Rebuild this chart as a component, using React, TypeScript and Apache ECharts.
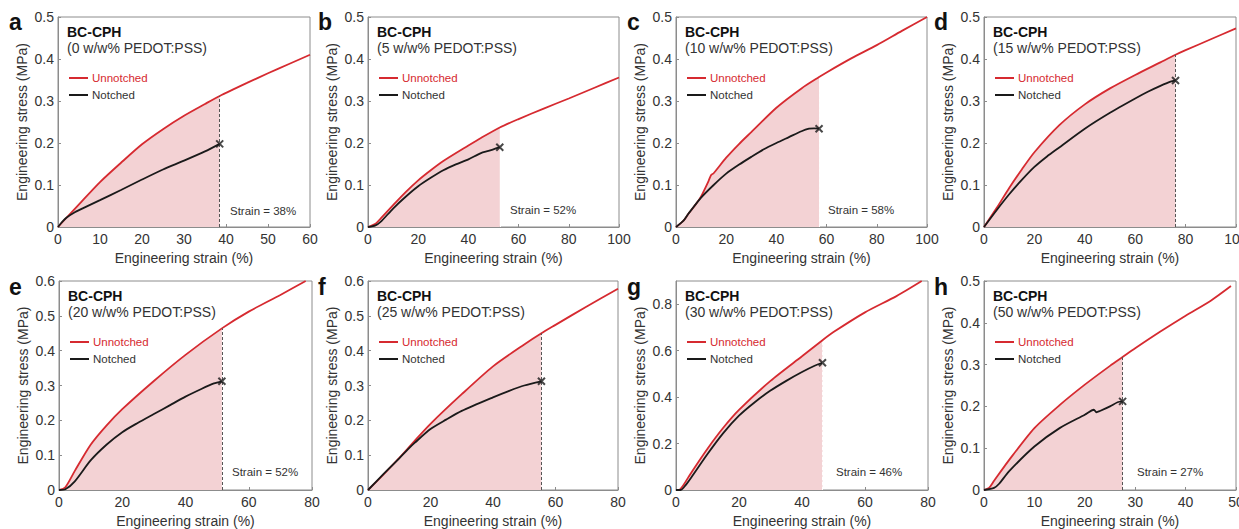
import React, { useEffect, useRef } from "react";
import * as echarts from "echarts";

// ---------- data ----------
const aUnnotched = [[0,0],[2,0.022],[5,0.054],[10,0.107],[15,0.153],[20,0.197],[25,0.233],[30,0.265],[35,0.293],[38.5,0.312],[45,0.343],[50,0.366],[55,0.388],[60,0.41]];
const aNotched = [[0,0],[1,0.012],[2,0.022],[4,0.035],[6,0.045],[10,0.064],[15,0.088],[20,0.113],[25,0.137],[30,0.158],[35,0.18],[38.5,0.198]];
const bUnnotched = [[0,0],[3,0.008],[5,0.02],[10,0.052],[15,0.083],[20,0.111],[25,0.135],[30,0.157],[40,0.194],[45,0.212],[52.5,0.237],[60,0.257],[70,0.282],[80,0.306],[90,0.331],[100,0.356]];
const bNotched = [[0,0],[3,0.004],[5,0.012],[10,0.044],[15,0.072],[20,0.097],[25,0.117],[30,0.135],[35,0.149],[40,0.161],[45,0.176],[48,0.181],[52.5,0.19]];
const cUnnotched = [[0,0],[3,0.015],[5,0.032],[8,0.055],[10,0.073],[13,0.11],[14,0.124],[15,0.128],[20,0.165],[25,0.197],[30,0.226],[40,0.284],[50,0.33],[57,0.357],[60,0.368],[70,0.402],[80,0.433],[90,0.467],[100,0.5]];
const cNotched = [[0,0],[3,0.015],[5,0.032],[10,0.07],[15,0.1],[20,0.127],[25,0.148],[30,0.167],[35,0.185],[40,0.2],[45,0.214],[50,0.228],[53,0.234],[55,0.235],[57,0.234]];
const dUnnotched = [[0,0],[5,0.045],[10,0.093],[15,0.137],[20,0.178],[30,0.243],[40,0.292],[50,0.33],[60,0.362],[70,0.392],[76,0.41],[80,0.421],[90,0.447],[100,0.473]];
const dNotched = [[0,0],[5,0.04],[10,0.078],[15,0.112],[20,0.143],[25,0.168],[30,0.19],[40,0.234],[50,0.272],[60,0.306],[65,0.322],[70,0.336],[74,0.346],[76,0.349]];
const eUnnotched = [[0,0],[2,0.008],[5,0.055],[10,0.13],[15,0.185],[20,0.232],[30,0.313],[40,0.388],[51.5,0.464],[60,0.512],[70,0.56],[78,0.6]];
const eNotched = [[0,0],[2,0.002],[5,0.025],[10,0.085],[15,0.13],[20,0.166],[25,0.193],[30,0.218],[35,0.243],[40,0.268],[45,0.29],[49,0.306],[51.5,0.312]];
const fUnnotched = [[0,0],[5,0.045],[10,0.092],[15,0.142],[20,0.19],[30,0.275],[40,0.355],[50,0.418],[55.5,0.45],[60,0.474],[70,0.527],[80,0.578]];
const fNotched = [[0,0],[5,0.046],[10,0.091],[13,0.119],[15,0.136],[20,0.175],[25,0.202],[30,0.227],[40,0.266],[45,0.284],[50,0.3],[55.5,0.312]];
const gUnnotched = [[0,0],[1,0],[2,0.014],[5,0.078],[10,0.178],[15,0.268],[20,0.345],[30,0.47],[40,0.576],[46.5,0.645],[50,0.68],[60,0.765],[70,0.835],[78,0.9]];
const gNotched = [[0,0],[1.5,0],[3,0.02],[5,0.057],[10,0.155],[15,0.245],[20,0.32],[25,0.378],[30,0.428],[35,0.47],[40,0.508],[44,0.535],[46.5,0.548]];
const hUnnotched = [[0,0],[1,0.005],[2,0.022],[5,0.072],[10,0.148],[15,0.203],[20,0.252],[25,0.297],[27.5,0.318],[30,0.339],[35,0.379],[40,0.417],[45,0.453],[49,0.488]];
const hNotched = [[0,0],[2,0.005],[3,0.015],[5,0.045],[10,0.104],[15,0.148],[20,0.18],[21.8,0.192],[22.3,0.186],[23,0.189],[25,0.2],[26.5,0.21],[27.5,0.212]];

const unnotchedSets = [aUnnotched, bUnnotched, cUnnotched, dUnnotched, eUnnotched, fUnnotched, gUnnotched, hUnnotched];
const notchedSets = [aNotched, bNotched, cNotched, dNotched, eNotched, fNotched, gNotched, hNotched];
const panelLetters = ["a", "b", "c", "d", "e", "f", "g", "h"];
const loadings = ["0", "5", "10", "15", "20", "25", "30", "50"];
const strains = [38.5, 52.5, 57, 76, 51.5, 55.5, 46.5, 27.5];
const strainLabels = ["38", "52", "58", "75", "52", "55", "46", "27"];
const xMaxes = [60, 100, 100, 100, 80, 80, 80, 50];
const xIntervals = [10, 20, 20, 20, 20, 20, 20, 10];
const yMaxes = [0.5, 0.5, 0.5, 0.5, 0.6, 0.6, 0.9, 0.5];
const yIntervals = [0.1, 0.1, 0.1, 0.1, 0.1, 0.1, 0.2, 0.1];
const sampleName = "BC-CPH";
const legendNames = ["Unnotched", "Notched"];
const xName = "Engineering strain (%)";
const yName = "Engineering stress (MPa)";

// ---------- layout / style ----------
const lefts = [58, 368, 676, 984, 59, 368, 676, 984];
const rights = [310, 619, 927, 1236, 312, 618, 928, 1236];
const tops = [17, 17, 17, 17, 281, 281, 281, 281];
const bottoms = [227, 227, 227, 227, 492, 492, 492, 492];
const strainLabelPos = [[230, 211], [510, 210], [828, 210], [1101, 211], [232, 472], [467, 472], [836, 472], [1137, 472]];
const dashWhite = [false, true, true, false, false, false, true, false];
const letterPos = [[9, 22], [318, 22], [627, 22], [934, 22], [9, 287], [318, 287], [627, 287], [934, 287]];

const FONT = '"Liberation Sans", Arial, Helvetica, sans-serif';
const RED = "#d62a30";
const BLACK = "#1a1a1a";
const FILL = "#f3d2d4";
const AXIS = "#8c8c8c";
const TEXT = "#333333";

export default function App() {
  const ref = useRef<HTMLDivElement>(null);
  useEffect(() => {
    if (!ref.current) return;
    const chart = echarts.init(ref.current, null, { renderer: "svg" });
    const grid: any[] = [];
    const xAxis: any[] = [];
    const yAxis: any[] = [];
    const series: any[] = [];
    const graphic: any[] = [];

    for (let i = 0; i < 8; i++) {
      grid.push({
        left: lefts[i], top: tops[i],
        width: rights[i] - lefts[i], height: bottoms[i] - tops[i],
        show: true, borderColor: AXIS, borderWidth: 1,
      });
      const axisCommon = {
        gridIndex: i,
        axisLine: { show: true, onZero: false, lineStyle: { color: AXIS, width: 1 } },
        axisTick: { show: true, inside: true, length: 3, lineStyle: { color: AXIS } },
        splitLine: { show: false },
        nameLocation: "middle",
        nameTextStyle: { fontFamily: FONT, fontSize: 14, color: TEXT },
      };
      xAxis.push({
        ...axisCommon, type: "value", min: 0, max: xMaxes[i], interval: xIntervals[i],
        name: xName, nameGap: 24,
        axisLabel: { fontFamily: FONT, fontSize: 14, color: TEXT, margin: 5, hideOverlap: false },
      });
      yAxis.push({
        ...axisCommon, type: "value", min: 0, max: yMaxes[i], interval: yIntervals[i],
        name: yName, nameGap: 29,
        axisLabel: { fontFamily: FONT, fontSize: 14, color: TEXT, margin: 4, showMaxLabel: i !== 6 ? undefined : false },
      });

      const un = unnotchedSets[i];
      const no = notchedSets[i];
      const s = strains[i];
      const fillData = un.filter((p) => p[0] <= s);
      const yAtS = fillData[fillData.length - 1][1];

      series.push({
        type: "line", xAxisIndex: i, yAxisIndex: i, data: fillData,
        smooth: 0.25, showSymbol: false, silent: true,
        lineStyle: { width: 0, opacity: 0 }, areaStyle: { color: FILL, opacity: 1 }, z: 1,
        markLine: {
          silent: true, symbol: ["none", "none"], label: { show: false },
          lineStyle: { type: [3, 2], color: dashWhite[i] ? "#ffffff" : "#555555", width: 1 },
          data: [[{ coord: [s, 0] }, { coord: [s, yAtS] }]],
        },
      });
      series.push({
        type: "line", xAxisIndex: i, yAxisIndex: i, data: un,
        smooth: 0.25, showSymbol: false, silent: true,
        lineStyle: { color: RED, width: 1.8 }, z: 3,
      });
      series.push({
        type: "line", xAxisIndex: i, yAxisIndex: i, data: no,
        smooth: 0.25, showSymbol: false, silent: true,
        lineStyle: { color: BLACK, width: 1.8 }, z: 4,
      });
      series.push({
        type: "scatter", xAxisIndex: i, yAxisIndex: i, data: [no[no.length - 1]],
        symbol: "path://M0,0L10,10M10,0L0,10", symbolSize: 7, silent: true,
        itemStyle: { color: BLACK, borderColor: BLACK, borderWidth: 2 }, z: 5,
      });

      const L = lefts[i];
      const T = tops[i];
      graphic.push({
        type: "text", x: letterPos[i][0], y: letterPos[i][1],
        style: { text: panelLetters[i], font: `bold 23px ${FONT}`, fill: "#111", align: "left", verticalAlign: "middle" },
      });
      graphic.push({
        type: "text", x: L + 9, y: T + 15,
        style: { text: sampleName, font: `bold 14px ${FONT}`, fill: "#111", align: "left", verticalAlign: "middle" },
      });
      graphic.push({
        type: "text", x: L + 9, y: T + 31,
        style: { text: `(${loadings[i]} w/w% PEDOT:PSS)`, font: `14px ${FONT}`, fill: TEXT, align: "left", verticalAlign: "middle" },
      });
      graphic.push({
        type: "line", shape: { x1: L + 11, y1: T + 61, x2: L + 30, y2: T + 61 },
        style: { stroke: RED, lineWidth: 2 },
      });
      graphic.push({
        type: "text", x: L + 34, y: T + 61,
        style: { text: legendNames[0], font: `11.5px ${FONT}`, fill: RED, align: "left", verticalAlign: "middle" },
      });
      graphic.push({
        type: "line", shape: { x1: L + 11, y1: T + 78, x2: L + 30, y2: T + 78 },
        style: { stroke: BLACK, lineWidth: 2 },
      });
      graphic.push({
        type: "text", x: L + 34, y: T + 78,
        style: { text: legendNames[1], font: `11.5px ${FONT}`, fill: TEXT, align: "left", verticalAlign: "middle" },
      });
      graphic.push({
        type: "text", x: strainLabelPos[i][0], y: strainLabelPos[i][1],
        style: { text: `Strain = ${strainLabels[i]}%`, font: `11.5px ${FONT}`, fill: TEXT, align: "left", verticalAlign: "middle" },
      });
    }

    chart.setOption({
      animation: false,
      backgroundColor: "#ffffff",
      grid, xAxis, yAxis, series, graphic,
    });
    return () => chart.dispose();
  }, []);

  return (
    <div
      ref={ref}
      style={{ position: "fixed", left: 0, top: 0, width: 1262, height: 529, background: "#fff" }}
    />
  );
}
